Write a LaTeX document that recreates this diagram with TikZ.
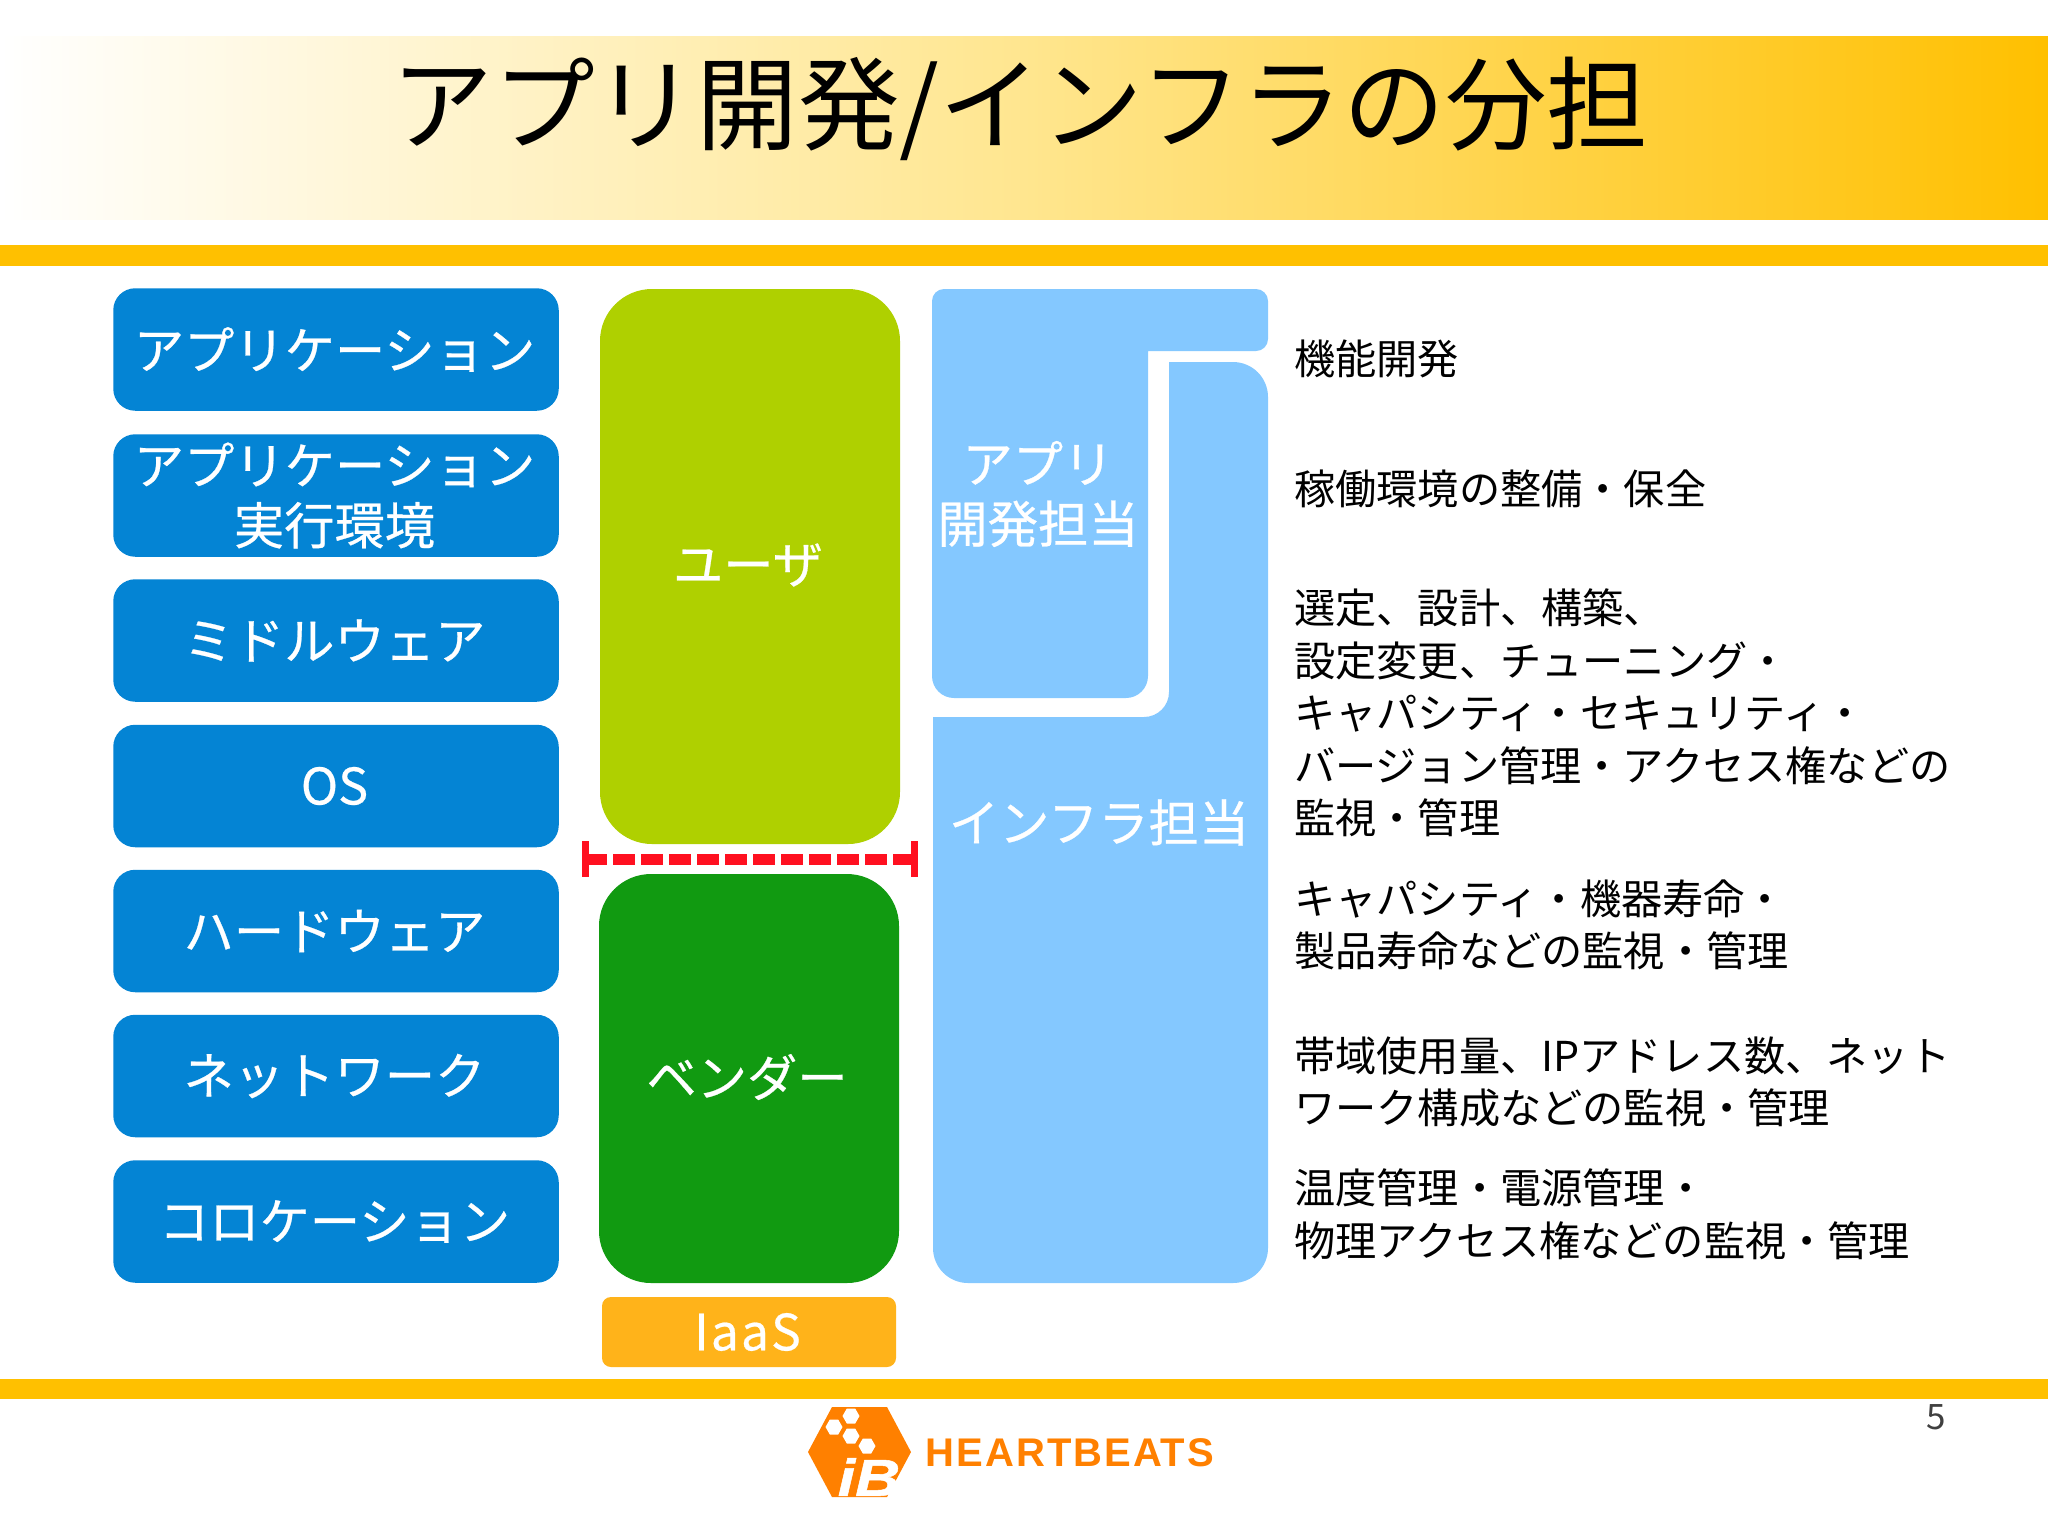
\documentclass[tikz,border=0pt]{standalone}
\usepackage{fontspec}
\setmainfont{Noto Sans CJK JP}
\newfontfamily\labfont[FakeBold=0.5]{Noto Sans CJK JP}
\newfontfamily\logofont{Liberation Sans}
\definecolor{barc}{HTML}{FFC000}
\definecolor{bluec}{HTML}{0484D4}
\definecolor{limec}{HTML}{AFD000}
\definecolor{greenc}{HTML}{119A11}
\definecolor{skyc}{HTML}{84C8FF}
\definecolor{iaasc}{HTML}{FFB31A}
\definecolor{logoc}{HTML}{FF8000}
\definecolor{redc}{HTML}{FF1020}
\definecolor{midc}{HTML}{FFE68F}
\newcommand{\fsz}[2]{\fontsize{#1}{#2}\selectfont}
\tikzset{
  layerbox/.style={fill=bluec,rounded corners=22pt,minimum width=445.5pt,minimum height=122.5pt,inner sep=0pt,text=white,align=center,font=\labfont\fsz{50.3}{60}},
  whitelabel/.style={text=white,align=center,inner sep=0pt,font=\labfont\fsz{50.3}{60}},
  desc/.style={anchor=west,align=left,inner sep=0pt,text=black,font=\fsz{41.2}{52.6}},
  bar/.style={fill=barc,draw=none},
  limit/.style={draw=redc,line width=7pt},
}
\begin{document}
\begin{tikzpicture}[x=1pt,y=-1pt]
\useasboundingbox (0,0) rectangle (2048,1535);
\fill[white] (0,0) rectangle (2048,1535);
% header
\path[left color=white,right color=barc,middle color=midc,draw=none] (0,36) rectangle (2048,219);
\fill[bar] (0,245) rectangle (2048,266);
\fill[bar] (0,1379) rectangle (2048,1399);
\node[inner sep=0pt,text=black,font=\fsz{101.7}{120}] (title) at (1020,109) {アプリ開発/インフラの分担};
% layers
\node[layerbox] (l1) at (336,349.5) {\kern-3pt アプリケーション};
\node[layerbox] (l2) at (336,495.5) {\kern-3pt アプリケーション\\\kern-3pt 実行環境};
\node[layerbox] (l3) at (336,640.5) {\kern-3pt ミドルウェア};
\node[layerbox] (l4) at (336,786) {\kern-3pt OS};
\node[layerbox] (l5) at (336,931) {\kern-3pt ハードウェア};
\node[layerbox] (l6) at (336,1076) {\kern-3pt ネットワーク};
\node[layerbox] (l7) at (336,1221.5) {\kern-3pt コロケーション};
% user / vendor
\node[fill=limec,rounded corners=52pt,minimum width=300pt,minimum height=555pt,inner sep=0pt] (user) at (750,566.5) {};
\node[whitelabel] (userlabel) at (748,565) {ユーザ};
\node[fill=greenc,rounded corners=52pt,minimum width=300pt,minimum height=409pt,inner sep=0pt] (vendor) at (749,1078.5) {};
\node[whitelabel] (vendorlabel) at (747,1077) {ベンダー};
\node[fill=iaasc,rounded corners=9pt,minimum width=294pt,minimum height=70pt,inner sep=0pt,text=white,font=\labfont\fsz{50}{60}] (iaas) at (749,1332) {\kern-3pt\addfontfeatures{LetterSpace=4}IaaS};
% boundary
\coordinate (ba) at (585,859);
\coordinate (bb) at (914,859);
\coordinate (ba1) at (585,841);
\coordinate (ba2) at (585,877);
\coordinate (bb1) at (914,841);
\coordinate (bb2) at (914,877);
\draw[draw=redc,line width=11pt,dash pattern=on 22pt off 6pt] (ba) -- (bb);
\draw[limit] (ba1) -- (ba2);
\draw[limit] (bb1) -- (bb2);
% app shape
\fill[skyc,rounded corners=12pt] (1100,289) -- (1268,289) -- (1268,351) [sharp corners] -- (1148,351) [rounded corners=22pt] -- (1148,698) -- (932,698) [rounded corners=12pt] -- (932,289) [sharp corners] -- cycle;
\node[whitelabel] (applabel) at (1038,494) {アプリ\\開発担当};
% infra shape
\fill[skyc] (1169,500) [sharp corners] -- (1169,362) [rounded corners=35pt] -- (1268,362) -- (1268,1283) -- (933,1283) [sharp corners] -- (933,717) [rounded corners=25pt] -- (1169,717) [sharp corners] -- cycle;
\node[whitelabel] (infralabel) at (1099,822.5) {インフラ担当};
% descriptions
\node[desc] (d1) at (1294,359) {機能開発};
\node[desc] (d2) at (1294,489) {稼働環境の整備・保全};
\node[desc] (d3) at (1294,713) {選定、設計、構築、\\設定変更、チューニング・\\キャパシティ・セキュリティ・\\バージョン管理・アクセス権などの\\監視・管理};
\node[desc] (d4) at (1294,925) {キャパシティ・機器寿命・\\製品寿命などの監視・管理};
\node[desc] (d5) at (1294,1082) {帯域使用量、IPアドレス数、ネット\\ワーク構成などの監視・管理};
\node[desc] (d6) at (1294,1214) {温度管理・電源管理・\\物理アクセス権などの監視・管理};
% page number
\node[inner sep=0pt,text=black!75,font=\fsz{35}{40}] (pg) at (1936,1417) {5};
% logo
\fill[logoc] (808,1452) -- (832,1407) -- (887,1407) -- (911,1452) -- (887,1497) -- (832,1497) -- cycle;
\foreach \cx/\cy in {851/1416,834/1427,851/1436,867/1446}
  \fill[white] (\cx-8.5,\cy) -- (\cx-4.2,\cy-7.5) -- (\cx+4.2,\cy-7.5) -- (\cx+8.5,\cy) -- (\cx+4.2,\cy+7.5) -- (\cx-4.2,\cy+7.5) -- cycle;
\node[inner sep=0pt,text=white,font=\logofont\bfseries\itshape\fsz{52}{60}] (ib) at (869,1477) {\addfontfeatures{FakeStretch=1.2,FakeBold=1}iB};
\node[inner sep=0pt,anchor=west,text=logoc,font=\logofont\bfseries\fsz{40}{48}] (hb) at (925.5,1453) {\addfontfeatures{LetterSpace=5}HEARTBEATS};
\end{tikzpicture}
\end{document}
